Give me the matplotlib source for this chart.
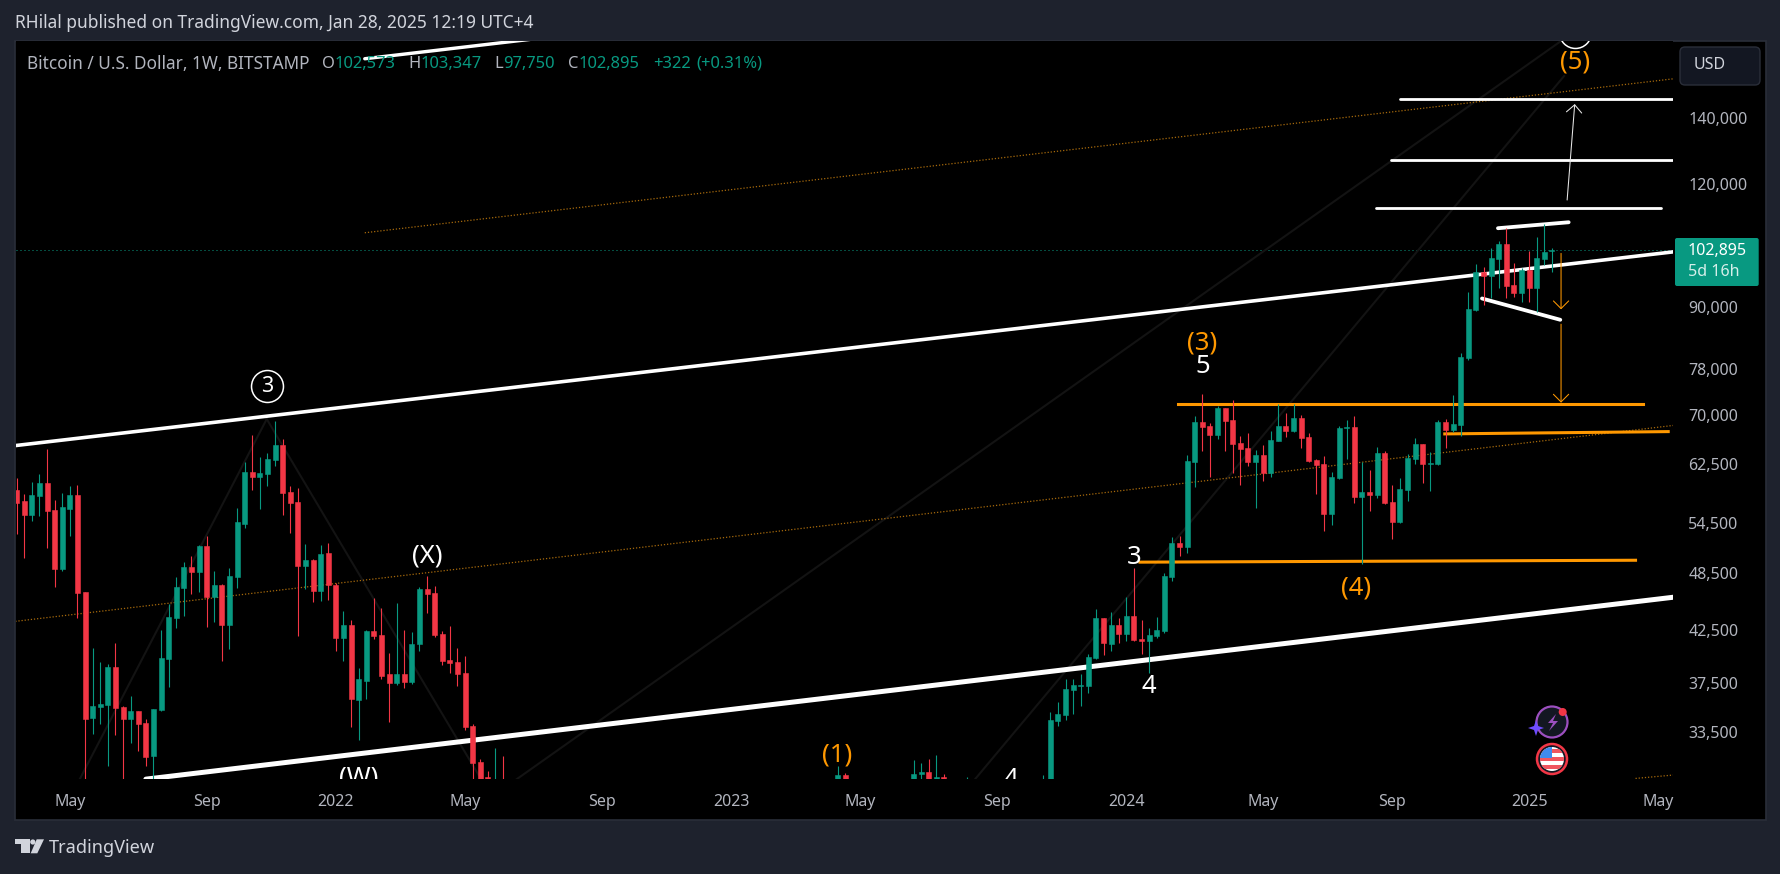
import matplotlib
matplotlib.use("Agg")
import matplotlib.pyplot as plt
from matplotlib.patches import Rectangle, Circle, Polygon, FancyBboxPatch

plt.rcParams['font.family'] = ['Noto Sans', 'DejaVu Sans']

# weekly candles, index 0 is 15 Mar 2021; weeks under about 30,000 are off the chart
week = list(range(65)) + [108, 109, 118, 119, 120, 121, 122, 125] + list(range(135, 203))
opens = [58800, 57320, 55530, 58040, 59770, 56140, 48960, 56310, 58130, 46370,
         34600, 35470, 35640, 38950, 35470, 34520, 35140, 34180, 31670, 35230,
         39700, 43680, 46850, 49150, 48590, 51610, 45830, 47140, 42940, 48030,
         54330, 61330, 60620, 61030, 63060, 65300, 58530, 57200, 49260, 49960,
         46480, 50780, 47140, 41660, 42940, 36050, 37690, 42340, 41950, 38300,
         37510, 38300, 37600, 41080, 46700, 46260, 42050, 39580, 39400, 38390,
         33940, 31200, 30140, 29000, 29900,
         28300, 30270, 26300, 30350, 30490, 29900, 30150, 29000,
         27000, 29990, 34330, 34810, 36900, 37230, 37230, 39760, 43650, 41070,
         42970, 42080, 43850, 41590, 41410, 41850, 42340, 48020, 51980, 51500,
         62780, 68900, 68260, 66840, 71200, 69220, 65610, 64850, 62780, 63810,
         61180, 65920, 68260, 67450, 69550, 66530, 63060, 62480, 55600, 60470,
         67960, 68100, 57860, 58530, 58120, 64100, 57190, 54590, 58800, 63210,
         65460, 62480, 62480, 68900, 67600, 68420, 79980, 89440, 97720, 96810,
         100730, 104370, 94840, 93060, 98190, 94150, 100730, 102573]
highs = [60430, 58260, 59910, 61030, 64740, 57460, 58400, 59360, 59500, 46440,
         40760, 39370, 39270, 41150, 35610, 36450, 35140, 34550, 35310, 42500,
         45160, 47990, 49730, 50430, 51700, 52830, 48700, 47250, 49030, 56410,
         62800, 66840, 63510, 64100, 69050, 66220, 59360, 59080, 51860, 50070,
         51740, 51980, 47360, 44360, 43450, 38870, 42500, 45730, 44700, 40220,
         45190, 42430, 42240, 46890, 48140, 47020, 42340, 42820, 40680, 39950,
         34100, 31420, 30560, 32230, 31640,
         30930, 30420, 31360, 31140, 31430, 31730, 30350, 30150,
         30290, 35060, 35890, 37860, 37860, 38300, 40130, 44570, 43650, 44260,
         43650, 45830, 49030, 43450, 42700, 43750, 48470, 52710, 52840, 63810,
         69950, 73560, 68740, 71530, 71200, 72530, 66690, 67150, 64550, 65300,
         67450, 71860, 70350, 71860, 70000, 67150, 63210, 63660, 61330, 68260,
         69220, 69870, 62780, 61620, 65000, 64400, 59540, 60470, 63960, 66380,
         65460, 64300, 69220, 69380, 73340, 81000, 93290, 99560, 98870, 103340,
         105040, 108270, 99800, 98650, 102610, 106020, 109280, 103347]
lows = [53080, 50190, 54760, 55360, 51380, 46960, 48730, 52830, 43680, 30020,
        33340, 34120, 30950, 33260, 28800, 32650, 32050, 30950, 29300, 35170,
        37200, 42630, 43850, 46150, 46370, 42760, 43240, 39520, 40630, 46810,
        53840, 58800, 56270, 59360, 62200, 55500, 53200, 41850, 46700, 45300,
        45410, 45510, 40410, 39490, 33860, 32850, 36140, 41560, 37870, 34250,
        37340, 37100, 37420, 40410, 44150, 41750, 39130, 38390, 37250, 33630,
        25400, 28700, 28300, 28800, 26400,
        28100, 28500, 26250, 29500, 29700, 29700, 28900, 28800,
        26900, 29800, 33930, 34410, 34900, 35560, 36640, 39700, 40040, 40430,
        41170, 41410, 41410, 40130, 38400, 41660, 42140, 47580, 50430, 50780,
        59250, 64400, 60610, 66230, 64400, 61180, 59500, 62200, 56400, 60050,
        60610, 65920, 66530, 67300, 64850, 62800, 58270, 53470, 54200, 60400,
        63210, 57060, 49490, 56010, 57730, 57000, 52470, 54450, 57320, 62480,
        59780, 58660, 62330, 64850, 67300, 66690, 79600, 89230, 90490, 91980,
        94150, 91980, 92190, 91120, 91120, 89080, 99340, 97750]
closes = [57100, 55530, 58130, 59770, 56050, 48960, 56530, 58130, 46300, 34520,
          35550, 35720, 38950, 35420, 34520, 35140, 34120, 31590, 35300, 39760,
          43740, 46900, 49150, 48590, 51610, 45830, 47140, 42940, 48140, 54590,
          61330, 60620, 61180, 63210, 65300, 58400, 57060, 49260, 49960, 46480,
          50660, 47140, 41660, 42940, 36140, 37870, 42340, 41850, 38130, 37510,
          38300, 37600, 41080, 46700, 46150, 41950, 39490, 39310, 38300, 33860,
          31130, 29400, 29000, 29900, 26500,
          30270, 29000, 30350, 30490, 29900, 30150, 29100, 29500,
          29900, 34410, 34900, 36990, 37320, 37320, 39850, 43650, 41170, 42970,
          42080, 43850, 41500, 41410, 41950, 42430, 48140, 51980, 51500, 62920,
          68900, 68100, 66840, 71200, 69060, 65460, 64700, 62780, 63810, 61180,
          66070, 68260, 67450, 69550, 66380, 62920, 62330, 55600, 60610, 67960,
          68100, 57860, 58530, 58120, 64100, 57060, 54590, 58940, 63360, 65460,
          62480, 62630, 68900, 67600, 68580, 80150, 89650, 97720, 96810, 100960,
          104370, 94610, 93060, 98190, 94150, 100960, 102380, 102895]

price_ticks = [33500, 37500, 42500, 48500, 54500, 62500, 70000, 78000, 90000, 120000, 140000]
time_ticks = [7, 25, 42, 59, 77, 94, 111, 129, 146, 164, 181, 199, 216]
time_labels = ['May', 'Sep', '2022', 'May', 'Sep', '2023', 'May', 'Sep', '2024', 'May', 'Sep', '2025', 'May']
last_close = 102895

# drawings on the chart: (week0, price0, week1, price1)
white_lines = [(-1, 65130, 218, 102450, 3.6), (17, 30000, 218, 45830, 5.0), (45.8, 160620, 70, 168900, 3.4),
               (182, 146130, 218, 146130, 2.8), (180.8, 126950, 218, 126950, 2.8), (178.9, 113390, 216.4, 113390, 2.8),
               (194.9, 108240, 204.2, 109750, 3.8), (192.8, 91900, 203.1, 87450, 3.8)]
orange_lines = [(152.8, 71880, 214, 71880), (187.9, 67040, 217.3, 67400), (147.8, 49730, 213, 49950)]
dotted_lines = [(45.8, 107100, 218, 153300), (-1, 43250, 218, 68380), (213, 30050, 218, 30290)]
faint_lines = [(8.3, 30000, 32.9, 69400), (32.9, 69400, 61.1, 30000), (65.8, 30000, 203.2, 167400), (126.1, 30000, 203.6, 154280)]
white_arrow = (204, 115590, 205, 144530)
orange_arrows = [(203.2, 102080, 203.2, 89610), (203.2, 86560, 203.2, 72100)]
orange = '#FF9800'
wave_labels = [('(X)', 54, 50430, 'white'), ('(W)', 45, 30100, 'white'), ('(1)', 108, 31730, orange),
               ('(3)', 156, 82900, orange), ('5', 156, 78390, 'white'), ('3', 147, 50250, 'white'),
               ('4', 149, 37210, 'white'), ('4', 130.8, 29950, 'white'), ('(4)', 176.2, 46780, orange),
               ('(5)', 205, 159500, orange)]
wave_circles = [('3', 33, 74940), ('', 205, 170930)]

green = '#089981'
red = '#F23645'
W, H = 1781, 874

fig = plt.figure(figsize=(W / 100, H / 100), dpi=100, facecolor='#1E222D')


def full_axes(z):
    a = fig.add_axes([0, 0, 1, 1], zorder=z)
    a.set_xlim(0, W)
    a.set_ylim(H, 0)
    a.axis('off')
    return a


bg = full_axes(-1)
bg.add_patch(Rectangle((15, 41), 1751, 779, fc='black', ec='#2A2E39', lw=1.2))

ax = fig.add_axes([16 / W, 1 - 779 / H, (1673 - 16) / W, (779 - 41) / H], facecolor='black')
ax.set_yscale('log')
ax.set_xlim(-0.09, 217.93)
ax.set_ylim(30010, 167400)
for s in ax.spines.values():
    s.set_visible(False)

ax.yaxis.tick_right()
ax.set_yticks(price_ticks)
ax.set_yticklabels([f'{p:,}' for p in price_ticks])
ax.minorticks_off()
ax.tick_params(axis='y', length=0, pad=11, labelsize=11.5, labelcolor='#B2B5BE')
ax.set_xticks(time_ticks)
ax.set_xticklabels(time_labels)
ax.tick_params(axis='x', length=0, pad=10.5, labelsize=11.5, labelcolor='#B2B5BE')

ax.axhline(last_close, color=green, lw=0.72, ls=(0, (1, 3)), zorder=1)
for x0, p0, x1, p1 in faint_lines:
    ax.plot([x0, x1], [p0, p1], color='#131313', lw=1.5, zorder=1)
for x0, p0, x1, p1 in dotted_lines:
    ax.plot([x0, x1], [p0, p1], color='#A76A0C', lw=0.9, ls=(0, (1, 1.5)), zorder=2)
for x0, p0, x1, p1, lw in white_lines:
    ax.plot([x0, x1], [p0, p1], color='white', lw=lw * 0.72, zorder=3, solid_capstyle='round')
for x0, p0, x1, p1 in orange_lines:
    ax.plot([x0, x1], [p0, p1], color=orange, lw=2.2, zorder=3)

# candles
cols = [green if c >= o else red for o, c in zip(opens, closes)]
ax.vlines(week, lows, highs, colors=cols, lw=0.8, zorder=4)
ax.bar(week, [max(abs(c - o), 1) for o, c in zip(opens, closes)], bottom=[min(o, c) for o, c in zip(opens, closes)],
       width=0.64, color=cols, edgecolor=cols, linewidth=0.4, zorder=5)

x0, p0, x1, p1 = white_arrow
ax.annotate('', xy=(x1, p1), xytext=(x0, p0), zorder=6,
            arrowprops=dict(arrowstyle='->,head_length=5.5,head_width=5.5', mutation_scale=1, lw=0.75,
                            color='#E8E8E8', shrinkA=0, shrinkB=0))
for x0, p0, x1, p1 in orange_arrows:
    ax.annotate('', xy=(x1, p1), xytext=(x0, p0), zorder=6,
                arrowprops=dict(arrowstyle='->,head_length=5.5,head_width=5.5', mutation_scale=1, lw=0.75,
                                color=orange, shrinkA=0, shrinkB=0))

for t, x, p, c in wave_labels:
    ax.text(x, p, t, color=c, fontsize=18.5, ha='center', va='center', clip_on=True, zorder=7)
for t, x, p in wave_circles:
    ax.plot([x], [p], 'o', ms=23, mfc='none', mec='white', mew=1.1, zorder=7)
    ax.text(x, p, t, color='white', fontsize=15.5, ha='center', va='center', clip_on=True, zorder=7)

# everything around the plot
ov = full_axes(5)
ov.text(15, 23, 'RHilal published on TradingView.com, Jan 28, 2025 12:19 UTC+4', color='#D1D4DC',
        fontsize=12.5, va='center')
legend_bits = [('Bitcoin / U.S. Dollar, 1W, BITSTAMP', 27.5, '#B2B5BE', 12.4), ('O', 322, '#B2B5BE', 11.9),
               ('102,573', 335, green, 11.9), ('H', 408, '#B2B5BE', 11.9), ('103,347', 421, green, 11.9),
               ('L', 494, '#B2B5BE', 11.9), ('97,750', 503.5, green, 11.9), ('C', 568, '#B2B5BE', 11.9),
               ('102,895', 579, green, 11.9), ('+322', 653, green, 11.9), ('(+0.31%)', 696, green, 11.9)]
for t, x, c, fs in legend_bits:
    ov.text(x, 64, t, color=c, fontsize=fs, va='center')

ov.add_patch(FancyBboxPatch((1683, 50), 74, 32, boxstyle='round,pad=3,rounding_size=5', fc='#131722', ec='#2A2E39', lw=1))
ov.text(1694, 65, 'USD', color='#D1D4DC', fontsize=11.5, va='center')
ov.add_patch(FancyBboxPatch((1675, 238), 83.7, 48, boxstyle='round,pad=0,rounding_size=2', fc=green, ec='none'))
ov.text(1688, 250.7, f'{last_close:,}', color='white', fontsize=11.5, va='center')
ov.text(1688, 272, '5d 16h', color='#D5EFEA', fontsize=11.5, va='center')

# TradingView logo
logo = '#D1D4DC'
ov.add_patch(Polygon([(15, 839.3), (30, 839.3), (30, 853.3), (20.7, 853.3), (20.7, 844), (15, 844)], fc=logo, ec='none'))
ov.add_patch(Circle((32.8, 842), 2.6, fc=logo, ec='none'))
ov.add_patch(Polygon([(36.7, 839.3), (44, 839.3), (37.3, 853.3), (30.7, 853.3)], fc=logo, ec='none'))
ov.text(49.3, 848, 'TradingView', color=logo, fontsize=13.1, va='center', fontweight='medium')

# icons bottom right
ov.add_patch(Circle((1552, 722), 15.5, fc='#131722', ec='#9C4FBF', lw=1.6))
ov.add_patch(Polygon([(1556, 714), (1548, 723), (1553, 723), (1549, 731), (1558, 721), (1553, 721)], fc='#9C4FBF', ec='none'))
ov.add_patch(Polygon([(1536, 720), (1538, 726), (1544, 728), (1538, 730), (1536, 736), (1534, 730), (1528, 728), (1534, 726)],
                     fc='#6E4CFF', ec='none'))
ov.add_patch(Circle((1562.7, 712), 4, fc=red, ec='none'))
ov.add_patch(Circle((1552, 759), 15, fc='#131722', ec=red, lw=1.8))
clip = Circle((1552, 759), 12, transform=ov.transData)
ov.add_patch(Circle((1552, 759), 12, fc='white', ec='none'))
for y in (749, 757, 765):
    st = ov.add_patch(Rectangle((1538, y), 28, 3.6, fc='#F0555F', ec='none'))
    st.set_clip_path(clip)
cn = ov.add_patch(Rectangle((1538, 745), 14.5, 13, fc='#3E8BEF', ec='none'))
cn.set_clip_path(clip)

fig.savefig('out.png', dpi=100, facecolor=fig.get_facecolor())
